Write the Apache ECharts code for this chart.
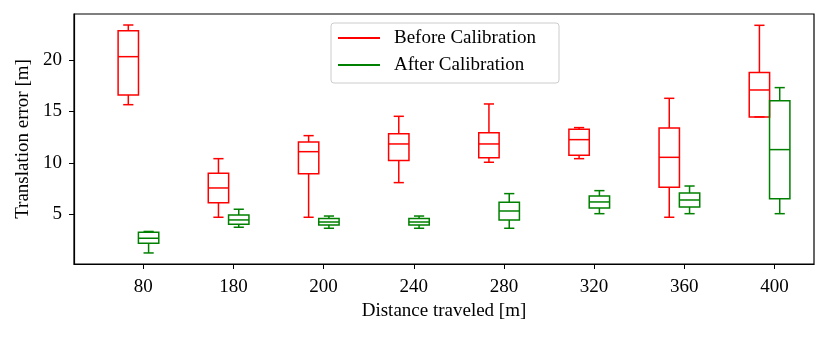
<!DOCTYPE html>
<html>
<head>
<meta charset="utf-8">
<script src="https://cdn.jsdelivr.net/npm/echarts@6/dist/echarts.min.js"></script>
<style>
  html, body { margin: 0; padding: 0; background: #fff; }
  #chart { width: 830px; height: 337px; }
</style>
</head>
<body>
<div id="chart"></div>
<script>
  // distance categories on the x axis
  const distances = ['80', '180', '200', '240', '280', '320', '360', '400']
  // box stats per distance: [min, Q1, median, Q3, max]
  const beforeStats = [
    [15.66, 16.6, 20.33, 22.86, 23.41],
    [4.71, 6.13, 7.56, 8.99, 10.41],
    [4.71, 8.95, 11.09, 12.03, 12.65],
    [8.08, 10.22, 11.84, 12.84, 14.53],
    [10.06, 10.51, 11.84, 12.94, 15.73],
    [10.41, 10.74, 12.26, 13.27, 13.43],
    [4.71, 7.63, 10.54, 13.39, 16.28],
    [14.47, 14.47, 17.09, 18.78, 23.38]
  ]
  const afterStats = [
    [1.24, 2.18, 2.67, 3.25, 3.33],
    [3.74, 4.03, 4.45, 4.93, 5.49],
    [3.64, 3.96, 4.25, 4.58, 4.83],
    [3.64, 3.96, 4.25, 4.58, 4.83],
    [3.64, 4.45, 5.32, 6.17, 7.01],
    [5.06, 5.61, 6.2, 6.78, 7.3],
    [5.06, 5.71, 6.39, 7.07, 7.75],
    [5.06, 6.52, 11.29, 16.05, 17.32]
  ]
  const yTicks = [5, 10, 15, 20]

  const font = 'Liberation Serif'
  const boxWidth = 0.226

  // box drawn at category index + offset
  const toData = (stats, offset) => stats.map((s, i) => [i + offset, ...s])

  const boxRender = (color) => (params, api) => {
    const x = api.value(0)
    const lo = api.coord([x, api.value(1)])
    const q1 = api.coord([x, api.value(2)])
    const md = api.coord([x, api.value(3)])
    const q3 = api.coord([x, api.value(4)])
    const hi = api.coord([x, api.value(5)])
    const w = api.size([boxWidth, 0])[0]
    const cx = lo[0]
    const style = { stroke: color, lineWidth: 1.5, fill: 'none' }
    const line = (x1, y1, x2, y2) => ({ type: 'line', shape: { x1, y1, x2, y2 }, style })
    return {
      type: 'group',
      children: [
        { type: 'rect', shape: { x: cx - w / 2, y: q3[1], width: w, height: q1[1] - q3[1] }, style },
        line(cx - w / 2, md[1], cx + w / 2, md[1]),
        line(cx, q3[1], cx, hi[1]),
        line(cx, q1[1], cx, lo[1]),
        line(cx - w / 4, hi[1], cx + w / 4, hi[1]),
        line(cx - w / 4, lo[1], cx + w / 4, lo[1])
      ]
    }
  }

  const chart = echarts.init(document.getElementById('chart'))
  chart.setOption({
    animation: false,
    grid: { left: 74, right: 16, top: 14, bottom: 73, show: true, borderColor: '#000', borderWidth: 1.2 },
    legend: {
      orient: 'vertical',
      left: 331,
      top: 23,
      padding: [5, 9, 8, 7],
      itemGap: 7,
      itemWidth: 42,
      itemHeight: 2,
      icon: 'rect',
      borderColor: '#cccccc',
      borderWidth: 1,
      borderRadius: 3,
      backgroundColor: 'rgba(255,255,255,0.8)',
      textStyle: { fontFamily: font, fontSize: 19, color: '#000', padding: [0, 0, 0, 9], width: 156, lineHeight: 20 },
      data: [
        { name: 'Before Calibration', itemStyle: { color: '#ff0000' } },
        { name: 'After Calibration', itemStyle: { color: '#008000' } }
      ]
    },
    xAxis: {
      type: 'value',
      min: -0.7686,
      max: 7.439,
      name: 'Distance traveled [m]',
      nameLocation: 'middle',
      nameGap: 36,
      nameTextStyle: { fontFamily: font, fontSize: 19, color: '#000' },
      splitLine: { show: false },
      axisLine: { show: true, onZero: false, lineStyle: { color: '#000', width: 1.2 } },
      axisTick: { show: true, length: 5, lineStyle: { color: '#000' }, customValues: distances.map((d, i) => i) },
      axisLabel: {
        margin: 14,
        fontFamily: font,
        fontSize: 19,
        color: '#000',
        customValues: distances.map((d, i) => i),
        formatter: (v) => distances[Math.round(v)]
      }
    },
    yAxis: {
      type: 'value',
      min: 0.165,
      max: 24.48,
      name: 'Translation error [m]',
      nameLocation: 'middle',
      nameGap: 40,
      nameTextStyle: { fontFamily: font, fontSize: 19, color: '#000' },
      splitLine: { show: false },
      axisLine: { show: true, onZero: false, lineStyle: { color: '#000', width: 1.2 } },
      axisTick: { show: true, length: 5, lineStyle: { color: '#000' }, customValues: yTicks },
      axisLabel: { margin: 12, fontFamily: font, fontSize: 19, color: '#000', customValues: yTicks }
    },
    series: [
      {
        name: 'Before Calibration',
        type: 'custom',
        itemStyle: { color: '#ff0000' },
        encode: { x: 0, y: [1, 2, 3, 4, 5] },
        renderItem: boxRender('#ff0000'),
        data: toData(beforeStats, -0.1664)
      },
      {
        name: 'After Calibration',
        type: 'custom',
        itemStyle: { color: '#008000' },
        encode: { x: 0, y: [1, 2, 3, 4, 5] },
        renderItem: boxRender('#008000'),
        data: toData(afterStats, 0.0588)
      }
    ]
  })
</script>
</body>
</html>
